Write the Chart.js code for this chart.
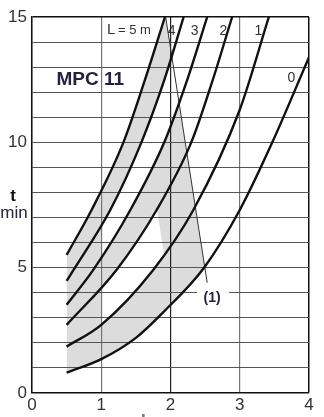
<!DOCTYPE html>
<html><head><meta charset="utf-8">
<script src="https://cdn.jsdelivr.net/npm/chart.js@4/dist/chart.umd.min.js"></script>
<style>html,body{margin:0;padding:0;background:#fff;}</style>
</head><body>
<canvas id="c" width="324" height="417"></canvas>
<script>
// ---- data ----
const curveNames = ['5', '4', '3', '2', '1', '0'];
const c5x = [0.5, 0.86, 1.32, 1.62, 1.92];
const c5t = [5.51, 7.3, 10.0, 12.4, 15.0];
const c4x = [0.5, 0.6, 1.13, 1.58, 1.9, 2.19];
const c4t = [4.47, 4.91, 7.3, 10.0, 12.4, 15.0];
const c3x = [0.5, 0.885, 1.42, 1.91, 2.23, 2.53];
const c3t = [3.52, 4.91, 7.3, 10.0, 12.4, 15.0];
const c2x = [0.5, 1.22, 1.8, 2.3, 2.6, 2.89];
const c2t = [2.72, 4.91, 7.3, 10.0, 12.4, 15.0];
const c1x = [0.5, 1.0, 1.75, 2.33, 3.0, 3.42];
const c1t = [1.85, 2.72, 4.91, 7.3, 11.3, 15.0];
const c0x = [0.5, 1.0, 1.5, 1.88, 2.49, 3.0, 3.47, 4.0];
const c0t = [0.81, 1.35, 2.2, 3.18, 5.02, 7.3, 10.0, 13.4];
const refLineX = [1.93, 2.53];
const refLineT = [15.0, 4.4];
const xTicks = [0, 1, 2, 3, 4];
const tTickLabels = [0, 5, 10, 15];
// shaded area: between two curves (by index), from an x value, left of line (1) shifted by `shift`
const shadeAreas = [
  {upper: 0, lower: 5, from: 0.5, shift: 0, color: '#dcdcdc'},
  {upper: 1, lower: 2, from: 1.0, shift: 0, color: '#ffffff'},
  {upper: 3, lower: 4, from: 1.0, shift: -0.56, color: '#ffffff'}
];

const curvesX = [c5x, c4x, c3x, c2x, c1x, c0x];
const curvesT = [c5t, c4t, c3t, c2t, c1t, c0t];
const pts = (xs, ts) => xs.map((v, i) => ({x: v, y: ts[i]}));

const FONT = "'Liberation Sans', Arial, sans-serif";
const NAVY = '#23233f';

const datasets = curvesX.map((xs, i) => ({
  label: 'L = ' + curveNames[i] + ' m',
  data: pts(xs, curvesT[i]),
  borderColor: '#111',
  borderWidth: 2.4,
  pointRadius: 0,
  cubicInterpolationMode: 'monotone',
  fill: false
}));
datasets.push({
  label: '(1)',
  data: pts(refLineX, refLineT),
  borderColor: '#333',
  borderWidth: 1,
  pointRadius: 0,
  tension: 0,
  fill: false
});

const shadePlugin = {
  id: 'shade',
  beforeDraw(chart) {
    const {ctx, chartArea: a, scales: {x}} = chart;
    const lines = curveNames.map((_, i) => chart.getDatasetMeta(i).dataset);
    lines.forEach(l => l.updateControlPoints(a, 'x'));
    const ref = chart.getDatasetMeta(curveNames.length).data;
    const big = 2000;
    ctx.save();
    for (const s of shadeAreas) {
      const x0 = x.getPixelForValue(s.from);
      const dx = x.getPixelForValue(s.shift) - x.getPixelForValue(0);
      ctx.save();
      ctx.fillStyle = s.color;
      ctx.beginPath(); ctx.rect(a.left, a.top, a.width, a.height); ctx.clip();
      ctx.beginPath(); ctx.rect(x0, a.top - big, big, 3 * big); ctx.clip();
      ctx.beginPath();
      ctx.moveTo(ref[0].x + dx, a.top - big); ctx.lineTo(ref[0].x + dx, ref[0].y);
      ctx.lineTo(ref[1].x + dx, ref[1].y); ctx.lineTo(ref[1].x + dx, a.bottom + big);
      ctx.lineTo(a.left - big, a.bottom + big); ctx.lineTo(a.left - big, a.top - big);
      ctx.closePath(); ctx.clip();
      const A = lines[s.upper], B = lines[s.lower];
      const pa = A.points, pb = B.points;
      ctx.beginPath(); A.path(ctx);
      const ae = pa[pa.length - 1], as = pa[0];
      ctx.lineTo(ae.x, a.top - big); ctx.lineTo(a.right + big, a.top - big);
      ctx.lineTo(a.right + big, a.bottom + big); ctx.lineTo(as.x, a.bottom + big);
      ctx.closePath(); ctx.clip();
      ctx.beginPath(); B.path(ctx);
      const be = pb[pb.length - 1], bs = pb[0];
      ctx.lineTo(be.x, a.top - big); ctx.lineTo(a.left - big, a.top - big);
      ctx.lineTo(a.left - big, bs.y);
      ctx.closePath(); ctx.clip();
      ctx.fillRect(a.left, a.top, a.width, a.height);
      ctx.restore();
    }
    ctx.restore();
  }
};

const textPlugin = {
  id: 'texts',
  afterDraw(chart) {
    const {ctx, chartArea: a, scales: {x, y}} = chart;
    const px = v => x.getPixelForValue(v), py = v => y.getPixelForValue(v);
    ctx.save();
    ctx.textBaseline = 'middle';
    ctx.fillStyle = '#333';
    ctx.textAlign = 'left';
    ctx.font = '15px ' + FONT;
    ctx.fillText('L', px(1.083), py(14.48));
    ctx.font = '13px ' + FONT;
    ctx.fillText('= 5 m', px(1.083) + 11, py(14.45));
    ctx.textAlign = 'center';
    ctx.font = '14px ' + FONT;
    ctx.fillText('4', px(2.017), py(14.43));
    ctx.fillText('3', px(2.347), py(14.43));
    ctx.fillText('2', px(2.765), py(14.43));
    ctx.fillText('1', px(3.271), py(14.43));
    ctx.fillText('0', px(3.747), py(12.56));
    ctx.fillStyle = NAVY;
    ctx.font = 'bold 19px ' + FONT;
    ctx.fillText('MPC 11', px(0.84), py(12.5));
    ctx.fillStyle = '#fff';
    ctx.fillRect(px(2.6) - 15, py(3.8) - 7, 32, 14);
    ctx.fillStyle = NAVY;
    ctx.font = 'bold 14px ' + FONT;
    ctx.fillText('(1)', px(2.6), py(3.8));
    ctx.fillStyle = '#111';
    ctx.font = 'bold 17px ' + FONT;
    ctx.fillText('t', a.left - 19, py(7.85));
    ctx.fillStyle = NAVY;
    ctx.font = '17px ' + FONT;
    ctx.fillText('min', a.left - 18, py(7.15));
    ctx.fillStyle = '#777';
    ctx.font = 'bold 17px ' + FONT;
    ctx.textBaseline = 'alphabetic';
    ctx.fillText('L', px(1.65), a.bottom + 33);
    ctx.restore();
  }
};

new Chart(document.getElementById('c'), {
  type: 'line',
  data: {datasets},
  options: {
    responsive: false,
    animation: false,
    devicePixelRatio: 1,
    layout: {padding: {left: 0, right: 15, top: 17, bottom: 0}},
    plugins: {legend: {display: false}, tooltip: {enabled: false}},
    scales: {
      x: {
        type: 'linear', min: xTicks[0], max: xTicks[xTicks.length - 1],
        afterBuildTicks: s => { s.ticks = xTicks.map(v => ({value: v})); },
        afterFit: s => { s.height = 24; },
        ticks: {color: '#333', font: {family: FONT, size: 17}, padding: 2},
        grid: {
          drawTicks: false,
          color: c => c.tick.value === 2 ? '#222' : (c.tick.value === 4 ? '#111' : '#777'),
          lineWidth: c => c.tick.value === 4 ? 1.5 : 1.2
        },
        border: {display: true, color: '#111', width: 1.5}
      },
      y: {
        type: 'linear', min: 0, max: 15,
        afterFit: s => { s.width = 32; },
        ticks: {
          stepSize: 1, autoSkip: false, color: '#333', padding: 5,
          font: {family: FONT, size: 17},
          callback: v => tTickLabels.includes(v) ? String(v) : ''
        },
        grid: {
          drawTicks: false,
          color: c => c.tick.value === 15 ? '#111' : '#555',
          lineWidth: c => c.tick.value === 15 ? 1.5 : 1.1
        },
        border: {display: true, color: '#111', width: 1.5}
      }
    }
  },
  plugins: [shadePlugin, textPlugin]
});
</script>
</body></html>
